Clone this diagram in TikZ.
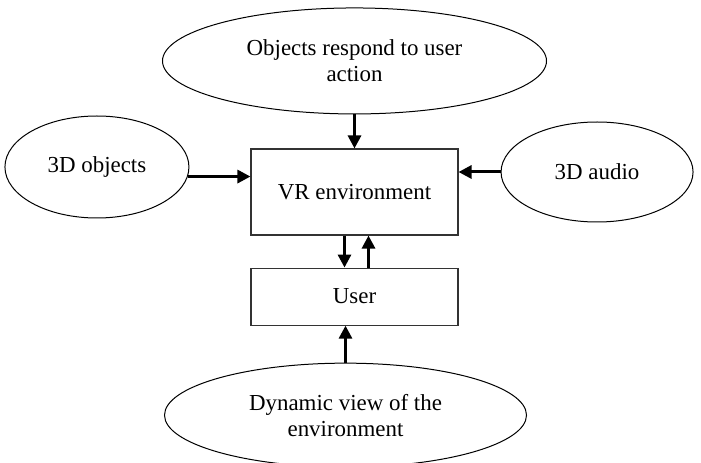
\documentclass[tikz,border=0pt]{standalone}
\usepackage{fontspec}
\setmainfont{Liberation Serif}
\usetikzlibrary{shapes,arrows.meta,positioning}

\begin{document}
\begin{tikzpicture}[x=1bp, y=-1bp,
    box/.style={draw=black!80, line width=1.1bp, minimum width=207bp, inner sep=0pt},
    oval/.style={ellipse, draw, line width=1bp, inner sep=0pt, align=center},
    flow/.style={-{Triangle[length=13bp,width=13bp]}, line width=3bp},
    font=\fontsize{23}{26}\selectfont]
  \useasboundingbox (0,0) rectangle (701,463);

  \node (vr) [box, minimum height=86bp] at (354.5,192) {VR environment};
  \node (user) [box, minimum height=57bp, below=32bp of vr] {User};

  \node (respond) [oval, minimum width=384bp, minimum height=106bp, above=34bp of vr] {Objects respond to user\\action};
  \node (objects) [oval, minimum width=184bp, minimum height=102bp, left=61bp of vr, yshift=25bp] {3D objects};
  \node (audio) [oval, minimum width=192bp, minimum height=100bp, right=42bp of vr, yshift=20bp] {3D audio};
  \node (view) [oval, minimum width=362bp, minimum height=104bp, below=37bp of user, xshift=-9bp] {Dynamic view of the\\environment};

  \path [flow]
    (respond.south) edge (respond.south |- vr.north)
    (objects.-6) edge (objects.-6 -| vr.west)
    (audio.west) edge (audio.west -| vr.east)
    ([xshift=-10bp]vr.south) edge ([xshift=-10bp]vr.south |- user.north)
    ([xshift=14bp]user.north) edge ([xshift=14bp]user.north |- vr.south)
    (view.north) edge (view.north |- user.south);
\end{tikzpicture}
\end{document}
